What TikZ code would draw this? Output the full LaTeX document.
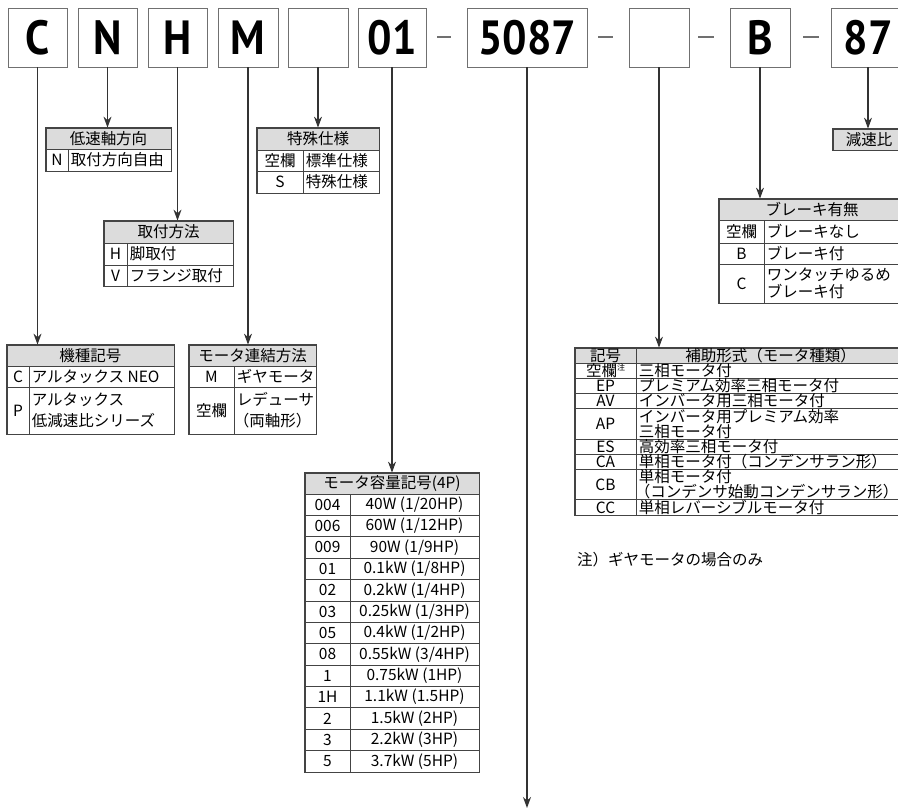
\documentclass[tikz,border=0pt]{standalone}
\usepackage{fontspec}
\usetikzlibrary{arrows.meta}
\newfontfamily\jp{Noto Sans CJK JP}
\newfontfamily\bigf[FakeStretch=0.9]{PT Sans}
\definecolor{bd}{HTML}{444444}
\definecolor{hd}{HTML}{DCDCDC}
\definecolor{bx}{HTML}{707070}
\definecolor{ln}{HTML}{333333}
\tikzset{
 topbox/.style={draw=bx, line width=0.9pt, minimum height=59pt, inner sep=0pt, font=\bigf\bfseries\fontsize{48}{48}\selectfont},
 cellbox/.style={draw=bd, line width=0.8pt, inner sep=0pt},
 hdrbox/.style={cellbox, fill=hd},
 tx/.style={font=\jp\fontsize{15.5}{19}\selectfont, inner sep=0pt},
 txs/.style={font=\jp\fontsize{15.5}{15}\selectfont, inner sep=0pt},
 arr/.style={draw=ln, line width=1.1pt, -{Stealth[length=11pt,width=8pt]}},
 frame/.style={draw=bd, line width=1.3pt},
 dashl/.style={draw=bx, line width=1.3pt}
}
% centred cell: name, x, y, w, h, text
\newcommand\cc[7][tx]{\node[cellbox,#1,minimum width=#5pt,minimum height=#6pt] (#2) at ({#3+#5/2},{#4+#6/2}) {#7};}
% header cell
\newcommand\hc[7][tx]{\node[hdrbox,#1,minimum width=#5pt,minimum height=#6pt] (#2) at ({#3+#5/2},{#4+#6/2}) {#7};}
% left aligned cell
\newcommand\lc[7][tx]{\node[cellbox,minimum width=#5pt,minimum height=#6pt] (#2) at ({#3+#5/2},{#4+#6/2}) {};
 \node[#1,anchor=west,align=left] (#2t) at ([xshift=3pt]#2.west) {#7};}
\begin{document}
\begin{tikzpicture}[x=1pt,y=-1pt]
\useasboundingbox (0,0) rectangle (898,809);
\clip (0,0) rectangle (898,809);
% top code boxes
\node[topbox,minimum width=59pt] (bC) at (37.5,37.5) {C};
\node[topbox,minimum width=59pt] (bN) at (107.5,37.5) {N};
\node[topbox,minimum width=59pt] (bH) at (177.5,37.5) {H};
\node[topbox,minimum width=60pt] (bM) at (248,37.5) {M};
\node[topbox,minimum width=60pt] (bX) at (318,37.5) {};
\node[topbox,minimum width=68pt] (b01) at (392,37.5) {01};
\node[topbox,minimum width=120pt] (b5087) at (527,37.5) {5087};
\node[topbox,minimum width=60pt] (bY) at (659,37.5) {};
\node[topbox,minimum width=60pt] (bB) at (760,37.5) {B};
\node[topbox,minimum width=74pt] (b87) at (868,37.5) {87};
\draw[dashl] (437,37) -- (451,37);
\draw[dashl] (598,37) -- (613,37);
\draw[dashl] (698,37) -- (714,37);
\draw[dashl] (803,37) -- (819,37);

% T1 低速軸方向
\hc{t1}{46}{128}{125}{21}{低速軸方向}
\cc{t1a}{46}{149}{22}{22}{N}
\lc{t1b}{68}{149}{103}{22}{取付方向自由}
\draw[frame] (t1.north west) rectangle (t1b.south east);

% T2 取付方法
\hc{t2}{104}{221}{129}{22}{取付方法}
\cc{t2a}{104}{243}{23}{22}{H}
\lc{t2b}{127}{243}{106}{22}{脚取付}
\cc{t2c}{104}{265}{23}{21}{V}
\lc{t2d}{127}{265}{106}{21}{フランジ取付}
\draw[frame] (t2.north west) rectangle (t2d.south east);

% T3 特殊仕様
\hc{t3}{257}{128}{122}{22}{特殊仕様}
\cc{t3a}{257}{150}{46}{21}{空欄}
\lc{t3b}{303}{150}{76}{21}{標準仕様}
\cc{t3c}{257}{171}{46}{22}{S}
\lc{t3d}{303}{171}{76}{22}{特殊仕様}
\draw[frame] (t3.north west) rectangle (t3d.south east);

% T4 機種記号
\hc{t4}{7}{345}{167}{21}{機種記号}
\cc{t4a}{7}{366}{22}{21}{C}
\lc{t4b}{29}{366}{145}{21}{アルタックス NEO}
\cc{t4c}{7}{387}{22}{47}{P}
\lc[tx,font=\jp\fontsize{15.5}{21}\selectfont]{t4d}{29}{387}{145}{47}{アルタックス\\低減速比シリーズ}
\draw[frame] (t4.north west) rectangle (t4d.south east);

% T5 モータ連結方法
\hc{t5}{189}{345}{127}{21}{モータ連結方法}
\cc{t5a}{189}{366}{45}{21}{M}
\lc{t5b}{234}{366}{82}{21}{ギヤモータ}
\cc{t5c}{189}{387}{45}{47}{空欄}
\lc[tx,font=\jp\fontsize{15.5}{21}\selectfont]{t5d}{234}{387}{82}{47}{レデューサ\\\hspace*{-3pt}（両軸形）}
\draw[frame] (t5.north west) rectangle (t5d.south east);

% T6 モータ容量記号
\hc{t6}{305}{473}{174}{21}{モータ容量記号(4P)}
\foreach \a/\b [count=\i from 0] in {004/{40W (1/20HP)},006/{60W (1/12HP)},009/{90W (1/9HP)},01/{0.1kW (1/8HP)},02/{0.2kW (1/4HP)},03/{0.25kW (1/3HP)},05/{0.4kW (1/2HP)},08/{0.55kW (3/4HP)},1/{0.75kW (1HP)},1H/{1.1kW (1.5HP)},2/{1.5kW (2HP)},3/{2.2kW (3HP)},5/{3.7kW (5HP)}}{
 \pgfmathsetmacro\yy{494+\i*21.385}
 \cc{t6a\i}{305}{\yy}{45}{21.385}{\a}
 \cc{t6b\i}{350}{\yy}{129}{21.385}{\b}
}
\draw[frame] (t6.north west) rectangle (t6b12.south east);

% T7 補助形式
\hc[txs]{t7}{575}{348}{61}{15}{記号}
\hc[txs]{t7h}{636}{348}{269}{15}{補助形式（モータ種類）}
\cc[txs]{t7a1}{575}{363}{61}{15.2}{空欄\raisebox{0.4em}{\fontsize{8}{8}\selectfont 注}}
\lc[txs]{t7b1}{636}{363}{269}{15.2}{三相モータ付}
\cc[txs]{t7a2}{575}{378.2}{61}{15.2}{EP}
\lc[txs]{t7b2}{636}{378.2}{269}{15.2}{プレミアム効率三相モータ付}
\cc[txs]{t7a3}{575}{393.4}{61}{15.2}{AV}
\lc[txs]{t7b3}{636}{393.4}{269}{15.2}{インバータ用三相モータ付}
\cc[txs]{t7a4}{575}{408.6}{61}{30.4}{AP}
\lc[txs]{t7b4}{636}{408.6}{269}{30.4}{インバータ用プレミアム効率\\三相モータ付}
\cc[txs]{t7a5}{575}{439}{61}{15.2}{ES}
\lc[txs]{t7b5}{636}{439}{269}{15.2}{高効率三相モータ付}
\cc[txs]{t7a6}{575}{454.2}{61}{15.2}{CA}
\lc[txs]{t7b6}{636}{454.2}{269}{15.2}{単相モータ付（コンデンサラン形）}
\cc[txs]{t7a7}{575}{469.4}{61}{30.4}{CB}
\lc[txs]{t7b7}{636}{469.4}{269}{30.4}{単相モータ付\\\hspace*{-4pt}（コンデンサ始動コンデンサラン形）}
\cc[txs]{t7a8}{575}{499.8}{61}{15.2}{CC}
\lc[txs]{t7b8}{636}{499.8}{269}{15.2}{単相レバーシブルモータ付}
\draw[frame] (t7.north west) rectangle (t7b8.south east);
\node[txs,anchor=west] (note) at (577,560) {注）ギヤモータの場合のみ};

% T8 ブレーキ有無
\hc{t8}{719}{199}{186}{21}{ブレーキ有無}
\cc{t8a}{719}{220}{45}{23}{空欄}
\lc{t8b}{764}{220}{141}{23}{ブレーキなし}
\cc{t8c}{719}{243}{45}{21}{B}
\lc{t8d}{764}{243}{141}{21}{ブレーキ付}
\cc{t8e}{719}{264}{45}{39}{C}
\lc[tx,font=\jp\fontsize{15.5}{17}\selectfont]{t8f}{764}{264}{141}{39}{ワンタッチゆるめ\\ブレーキ付}
\draw[frame] (t8.north west) rectangle (t8f.south east);

% T9 減速比
\hc{t9}{833}{129}{72}{21}{減速比}
\draw[frame] (t9.north west) rectangle (t9.south east);

% connectors
\coordinate (end5087) at (527,808);
\draw[arr] (bC.south) -- (bC.south |- t4.north);
\draw[arr] (bN.south) -- (bN.south |- t1.north);
\draw[arr] (bH.south) -- (bH.south |- t2.north);
\draw[arr] (bM.south) -- (bM.south |- t5.north);
\draw[arr] (bX.south) -- (bX.south |- t3.north);
\draw[arr] (b01.south) -- (b01.south |- t6.north);
\draw[arr] (b5087.south) -- (end5087);
\draw[arr] (bY.south) -- (bY.south |- t7h.north);
\draw[arr] (bB.south) -- (bB.south |- t8.north);
\draw[arr] (b87.south) -- (b87.south |- t9.north);
\end{tikzpicture}
\end{document}
